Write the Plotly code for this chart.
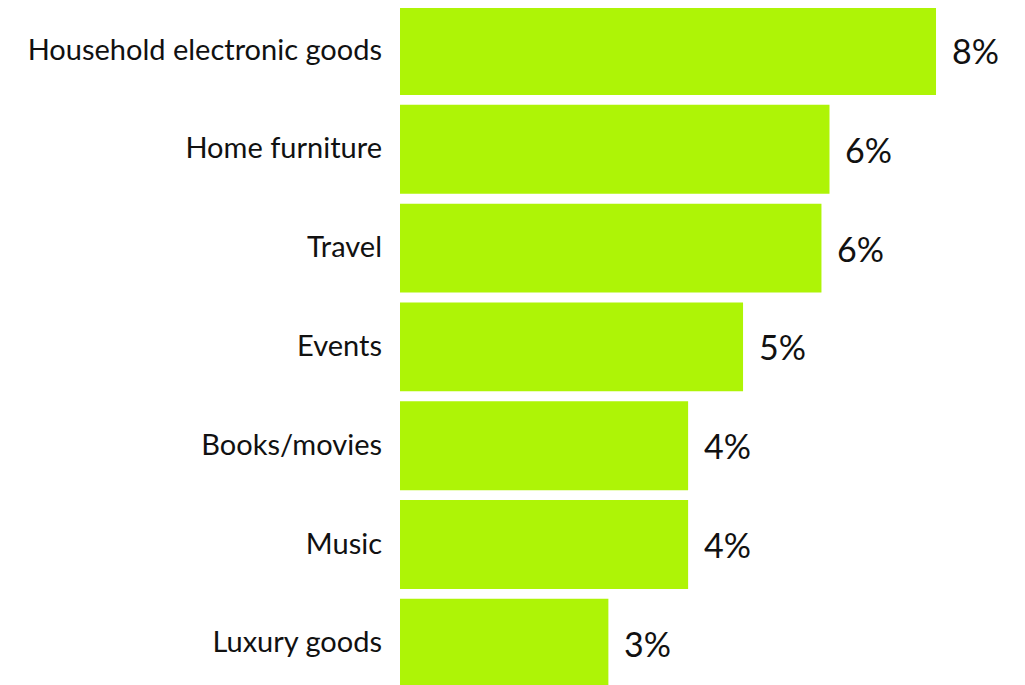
import plotly.graph_objects as go

categories = ["Household electronic goods", "Home furniture", "Travel", "Events",
              "Books/movies", "Music", "Luxury goods"]
values = [8.0, 6.41, 6.29, 5.12, 4.30, 4.30, 3.11]
labels = ["8%", "6%", "6%", "5%", "4%", "4%", "3%"]

bar_color = "#AEF406"
font_family = "Lato, 'Open Sans', sans-serif"

fig = go.Figure()
fig.add_trace(go.Bar(
    x=values,
    y=list(range(len(categories))),
    orientation="h",
    marker=dict(color=bar_color, line=dict(width=0)),
    hoverinfo="skip",
))

for i, (v, t) in enumerate(zip(values, labels)):
    fig.add_annotation(x=v, y=i, text=t, showarrow=False, xanchor="left",
                       xshift=14, yshift=0, font=dict(size=34, color="#111111", family=font_family))

fig.update_layout(
    width=1017, height=677,
    margin=dict(l=392, r=0, t=0, b=0),
    paper_bgcolor="white", plot_bgcolor="white",
    bargap=0.1,
    showlegend=False,
    xaxis=dict(range=[0, 9.328], visible=False, fixedrange=True),
    yaxis=dict(
        range=[6.422, -0.430],
        tickmode="array",
        tickvals=list(range(len(categories))),
        ticktext=categories,
        showgrid=False, zeroline=False, showline=False,
        ticks="", ticklabelstandoff=17, ticklabelshift=1,
        tickfont=dict(size=29, color="#111111", family=font_family),
    ),
)

fig.write_html("out.html")
